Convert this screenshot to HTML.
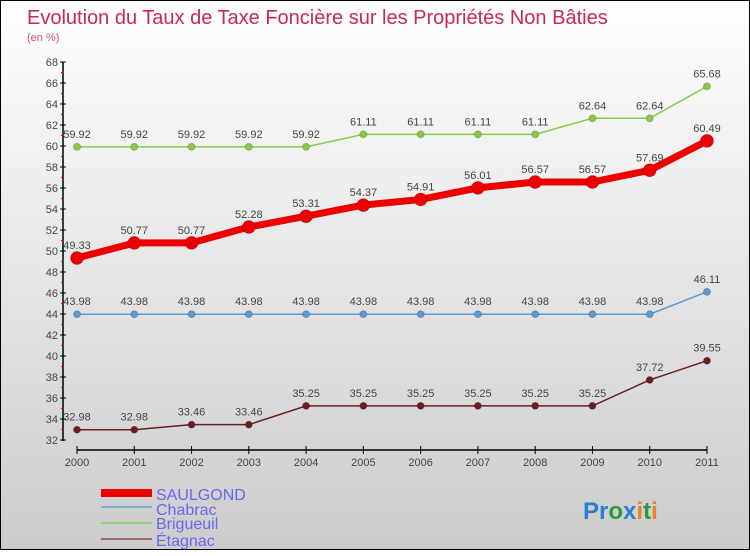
<!DOCTYPE html>
<html><head><meta charset="utf-8"><style>
body{margin:0;width:750px;height:550px;overflow:hidden;font-family:"Liberation Sans",sans-serif}
#c{position:absolute;left:0;top:0;width:748px;height:548px;border:1px solid #000;background:linear-gradient(#ffffff,#cccccc)}
</style></head><body>
<div id="c">
<svg width="750" height="550" id="s">
<text x="26" y="23" font-size="20" fill="#c8285a">Evolution du Taux de Taxe Foncière sur les Propriétés Non Bâties</text>
<text x="26" y="40" font-size="11" fill="#d0507a">(en %)</text>
<g id="ax"></g><g id="ser"></g>
<g>
<line x1="100" y1="492" x2="151" y2="492" stroke="#e00" stroke-width="8"/>
<text x="155" y="499" font-size="16" fill="#6666ee">SAULGOND</text>
<line x1="100" y1="506" x2="151" y2="506" stroke="#7ab0dc" stroke-width="2"/>
<text x="155" y="514" font-size="16" fill="#6666ee">Chabrac</text>
<line x1="100" y1="522" x2="151" y2="522" stroke="#90d070" stroke-width="2"/>
<text x="155" y="528" font-size="16" fill="#6666ee">Brigueuil</text>
<line x1="100" y1="538" x2="151" y2="538" stroke="#a06868" stroke-width="2"/>
<text x="155" y="545" font-size="16" fill="#6666ee">Étagnac</text>
</g>
<text x="582" y="518" font-size="24" font-weight="bold"><tspan fill="#2a7fd4">Pr</tspan><tspan fill="#2a9a3a">o</tspan><tspan fill="#2a7fd4">x</tspan><tspan fill="#f08020">i</tspan><tspan fill="#2a9a3a">t</tspan><tspan fill="#f08020">i</tspan></text>
</svg></div>
<script>
const years=[2000,2001,2002,2003,2004,2005,2006,2007,2008,2009,2010,2011];
const yTicks=[32,34,36,38,40,42,44,46,48,50,52,54,56,58,60,62,64,66,68];
const saulgond=[49.33,50.77,50.77,52.28,53.31,54.37,54.91,56.01,56.57,56.57,57.69,60.49];
const chabrac=[43.98,43.98,43.98,43.98,43.98,43.98,43.98,43.98,43.98,43.98,43.98,46.11];
const brigueuil=[59.92,59.92,59.92,59.92,59.92,61.11,61.11,61.11,61.11,62.64,62.64,65.68];
const etagnac=[32.98,32.98,33.46,33.46,35.25,35.25,35.25,35.25,35.25,35.25,37.72,39.55];
const NS="http://www.w3.org/2000/svg";
const X=i=>76+i*(630/11), Y=v=>61+(68-v)*10.5;
function mk(t,a,p){const e=document.createElementNS(NS,t);for(const k in a)e.setAttribute(k,a[k]);p.appendChild(e);return e;}
const ax=document.getElementById('ax'),ser=document.getElementById('ser');
const ya=mk('line',{x1:62,y1:61,x2:62,y2:440,stroke:'#000','stroke-width':1.5},ax);


yTicks.forEach(v=>{mk('line',{x1:59,y1:Y(v),x2:65,y2:Y(v),stroke:'#000'},ax);
 const t=mk('text',{x:57,y:Y(v)+4,'font-size':11,fill:'#444','text-anchor':'end'},ax);t.textContent=v;
 
 
 if(v<68)mk('line',{x1:60,y1:Y(v+1),x2:63,y2:Y(v+1),stroke:'#e00'},ax);});
const xa=mk('line',{x1:76,y1:449,x2:706,y2:449,stroke:'#000','stroke-width':1.5},ax);


years.forEach((y,i)=>{mk('line',{x1:X(i),y1:445,x2:X(i),y2:453,stroke:'#000'},ax);
 const t=mk('text',{x:X(i),y:465,'font-size':11,fill:'#444','text-anchor':'middle'},ax);t.textContent=y;
 
 });
function series(d,col,w,r,name){
 const g=mk('g',{},ser);
 
 
 mk('polyline',{points:d.map((v,i)=>X(i)+','+Y(v)).join(' '),fill:'none',stroke:col,'stroke-width':w},g);
 d.forEach((v,i)=>{const c=mk('circle',{cx:X(i),cy:Y(v),r:r,fill:col,stroke:'#0003'},g);
  
  
  const t=mk('text',{x:X(i),y:Y(v)-9,'font-size':11,fill:'#444','text-anchor':'middle'},g);t.textContent=v.toFixed(2);
  
  });
}
series(brigueuil,'#88cc44',1.5,3.5,'brigueuil');
series(chabrac,'#5a9bd4',1.5,3.5,'chabrac');
series(etagnac,'#6a1e22',1.5,3.5,'etagnac');
series(saulgond,'#ee0000',7,6.5,'saulgond');
</script>
</body></html>
